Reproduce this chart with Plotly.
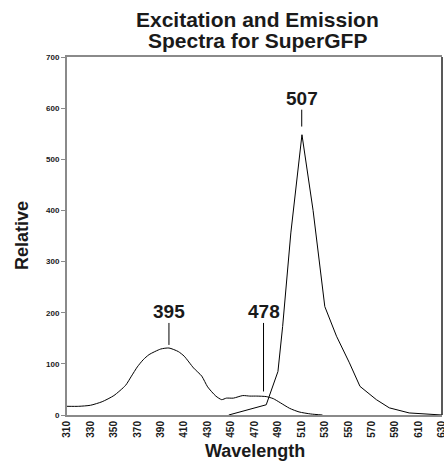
import plotly.graph_objects as go

# ---- data ----
exc_wl = [310, 320, 330, 340, 350, 360, 365, 370, 375, 380, 390, 397, 405, 410, 418, 425,
          430, 437, 442, 446, 452, 460, 466, 472, 480, 486, 492, 500, 508, 518, 528]
exc_val = [17, 17, 19, 26, 38, 58, 76, 94, 108, 118, 129, 131, 124, 115, 92, 76,
           55, 37, 30, 33, 33, 38, 37, 37, 36, 32, 24, 13, 6, 2, 0]

em_wl = [448, 480, 490, 494, 501, 510.5, 520, 530, 540, 551, 560, 574, 585, 602, 630]
em_val = [0, 20, 85, 173, 356, 548, 400, 212, 154, 102, 56, 30, 14, 4, 0]

peak_labels = ["395", "478", "507"]
peak_x = [397, 477.7, 510.3]
peak_line_lo = [137, 46, 564]
peak_line_hi = [180, 180, 597]
peak_text_y = [203, 203, 618]

x_ticks = list(range(310, 631, 20))
y_ticks = list(range(0, 701, 100))

FONT = "Liberation Sans, Arial, sans-serif"
GREY = "#8a8a8a"
PLOT_H = 358.5
PLOT_W = 375.0

fig = go.Figure()
fig.add_trace(go.Scatter(x=exc_wl, y=exc_val, mode="lines",
                         line=dict(color="black", width=1, shape="spline", smoothing=0.6),
                         showlegend=False, hoverinfo="skip"))
fig.add_trace(go.Scatter(x=em_wl, y=em_val, mode="lines",
                         line=dict(color="black", width=1),
                         showlegend=False, hoverinfo="skip"))

for lab, px, lo, hi, ty in zip(peak_labels, peak_x, peak_line_lo, peak_line_hi, peak_text_y):
    fig.add_shape(type="line", xref="x", yref="y", x0=px, x1=px, y0=lo, y1=hi,
                  line=dict(color="black", width=1))
    fig.add_annotation(x=px, y=ty, xref="x", yref="y", text=lab, showarrow=False,
                       font=dict(family=FONT, size=19, color="#1a1a1a", weight="bold"),
                       xanchor="center", yanchor="middle")

# right border (dark)
fig.add_shape(type="line", xref="paper", yref="paper", x0=1, x1=1, y0=0, y1=1,
              line=dict(color="#222222", width=1.5))

# titles
fig.add_annotation(x=0.507, y=1.0 + 38 / PLOT_H, xref="paper", yref="paper",
                   text="Excitation and Emission", showarrow=False,
                   font=dict(family=FONT, size=21, color="#1a1a1a", weight="bold"),
                   xanchor="center", yanchor="middle")
fig.add_annotation(x=0.507, y=1.0 + 17 / PLOT_H, xref="paper", yref="paper",
                   text="Spectra for SuperGFP", showarrow=False,
                   font=dict(family=FONT, size=21, color="#1a1a1a", weight="bold"),
                   xanchor="center", yanchor="middle")
fig.add_annotation(x=-45 / PLOT_W, y=0.5, xref="paper", yref="paper",
                   text="Relative", showarrow=False, textangle=-90,
                   font=dict(family=FONT, size=18, color="#1a1a1a", weight="bold"),
                   xanchor="center", yanchor="middle")
fig.add_annotation(x=0.5, y=-36 / PLOT_H, xref="paper", yref="paper",
                   text="Wavelength", showarrow=False,
                   font=dict(family=FONT, size=18, color="#1a1a1a", weight="bold"),
                   xanchor="center", yanchor="middle")

fig.update_layout(
    width=444, height=462,
    margin=dict(l=67, r=1.5, t=57, b=46.5, pad=0, autoexpand=False),
    paper_bgcolor="white", plot_bgcolor="white",
    xaxis=dict(range=[310, 630], tickvals=x_ticks, ticktext=[str(v) for v in x_ticks],
               tickangle=-90, showgrid=False, zeroline=False, automargin=False,
               showline=True, linecolor=GREY, linewidth=2, mirror=True,
               ticks="", ticklen=0, ticklabeloverflow="allow",
               tickfont=dict(family=FONT, size=10, color="#1a1a1a", weight="bold")),
    yaxis=dict(range=[0, 700], tickvals=y_ticks, showgrid=False, zeroline=False,
               automargin=False,
               showline=True, linecolor=GREY, linewidth=2,
               ticks="outside", ticklen=4, tickcolor=GREY, tickwidth=1,
               tickfont=dict(family=FONT, size=8, color="#1a1a1a", weight="bold")),
)

# remove the default page margin so the 444x462 figure fills the window exactly
fig.write_html("out.html", config={"displayModeBar": False},
               post_script="document.body.style.margin='0';document.body.style.overflow='hidden';")
